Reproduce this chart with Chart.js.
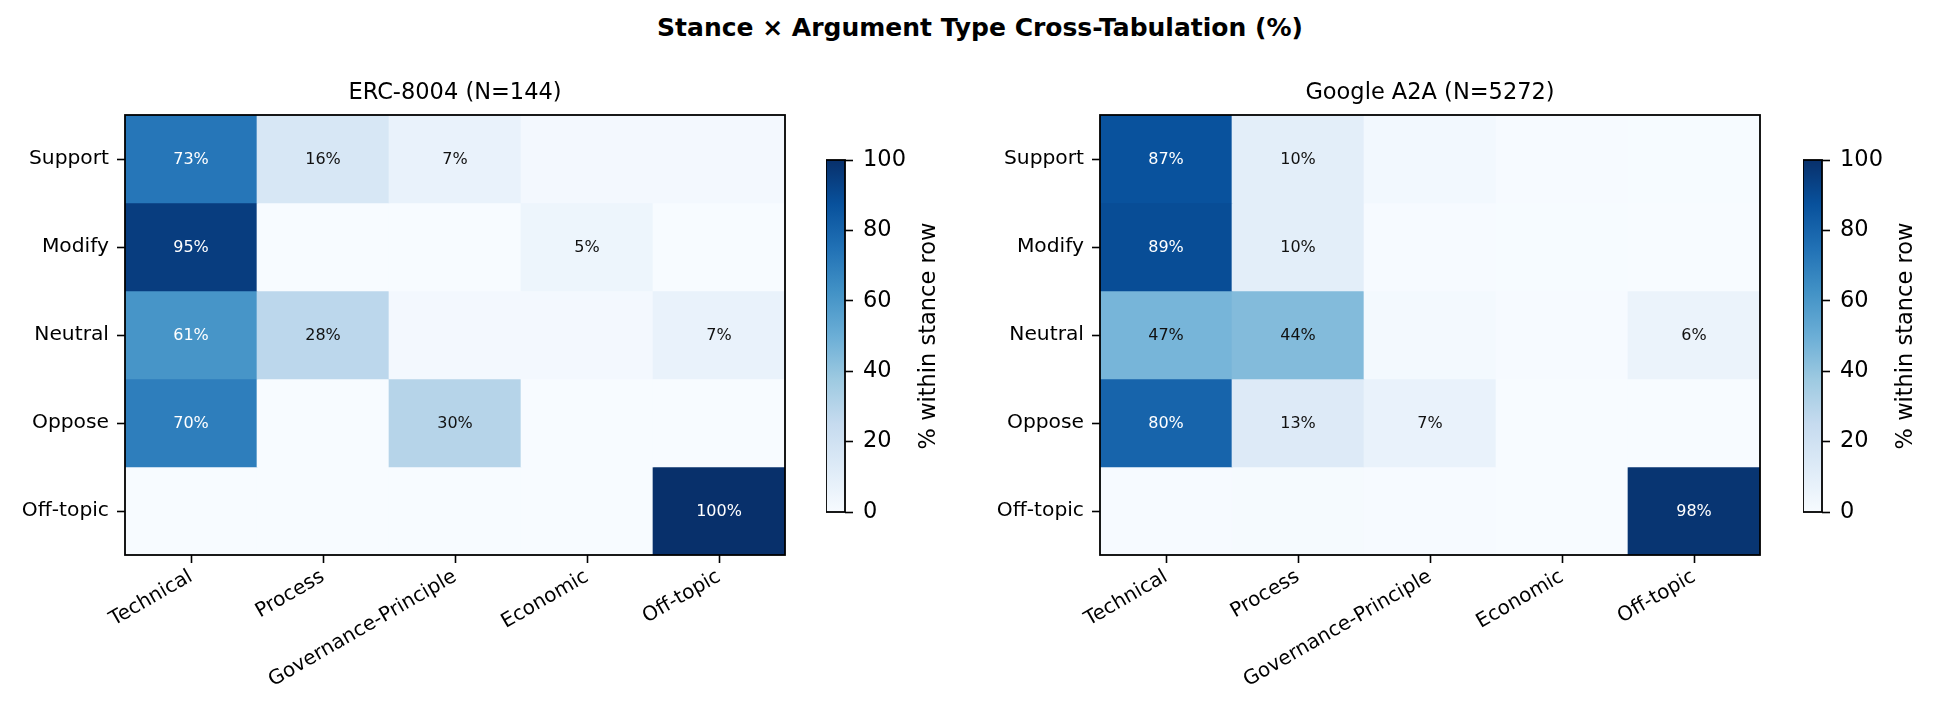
<!DOCTYPE html>
<html>
<head>
<meta charset="utf-8">
<title>Stance × Argument Type Cross-Tabulation (%)</title>
<script src="https://cdn.jsdelivr.net/npm/chart.js@4.4.1/dist/chart.umd.min.js"></script>
<style>
  html, body { margin: 0; padding: 0; background: #fff; }
  body { width: 1937px; height: 715px; position: relative; overflow: hidden; font-family: 'DejaVu Sans', sans-serif; }
  .suptitle { position: absolute; top: 13px; left: 980px; transform: translateX(-50%); font-size: 25px; font-weight: bold; line-height: 30px; white-space: nowrap; color: #000; }
  .box { position: absolute; }
</style>
</head>
<body>
<div class="suptitle">Stance × Argument Type Cross-Tabulation (%)</div>
<div class="box" style="left:0;top:60px;width:800px;height:655px"><canvas id="ercChart"></canvas></div>
<div class="box" style="left:826px;top:130px;width:160px;height:412px"><canvas id="ercBar"></canvas></div>
<div class="box" style="left:975px;top:60px;width:800px;height:655px"><canvas id="a2aChart"></canvas></div>
<div class="box" style="left:1803px;top:130px;width:134px;height:412px"><canvas id="a2aBar"></canvas></div>

<script>
// Rows = stance, columns = argument type
const stances = ['Support', 'Modify', 'Neutral', 'Oppose', 'Off-topic'];
const argTypes = ['Technical', 'Process', 'Governance-Principle', 'Economic', 'Off-topic'];

// % within stance row (ERC-8004, N=144)
const ercRows = [
  [73, 16, 7, 2, 2],
  [95, 0, 0, 5, 0],
  [61, 28, 2, 2, 7],
  [70, 0, 30, 0, 0],
  [0, 0, 0, 0, 100]
];

// % within stance row (Google A2A, N=5272)
const a2aRows = [
  [87, 10, 2.3, 0.4, 0.3],
  [89, 10, 0.5, 0.3, 0.2],
  [47, 44, 1.8, 0.6, 6],
  [80, 13, 7, 0, 0],
  [0.4, 1.0, 0.5, 0, 98.1]
];

const colorTicks = [0, 20, 40, 60, 80, 100];
const showLabelFrom = 5; // cells below this stay unlabeled

Chart.defaults.font.family = "'DejaVu Sans', sans-serif";
Chart.defaults.color = '#000';

// matplotlib "Blues"
const blues = ['#f7fbff', '#deebf7', '#c6dbef', '#9ecae1', '#6baed6', '#4292c6', '#2171b5', '#08519c', '#08306b'];
const hexRgb = h => [1, 3, 5].map(i => parseInt(h.slice(i, i + 2), 16));

function bluesAt(v) {
  const t = Math.min(Math.max(v / 100, 0), 1) * (blues.length - 1);
  const i = Math.min(Math.floor(t), blues.length - 2);
  const f = t - i;
  const a = hexRgb(blues[i]), b = hexRgb(blues[i + 1]);
  const c = a.map((x, k) => Math.round(x + (b[k] - x) * f));
  return `rgb(${c[0]}, ${c[1]}, ${c[2]})`;
}

// ========= plugins =========
const frame = {
  id: 'frame',
  afterDraw(chart) {
    const { ctx, chartArea: a } = chart;
    ctx.save();
    ctx.strokeStyle = '#000';
    ctx.lineWidth = 1.8;
    ctx.strokeRect(a.left, a.top, a.right - a.left, a.bottom - a.top);
    ctx.restore();
  }
};

const cellLabels = {
  id: 'cellLabels',
  afterDatasetsDraw(chart) {
    const ctx = chart.ctx;
    ctx.save();
    ctx.font = "16px 'DejaVu Sans'";
    ctx.textAlign = 'center';
    ctx.textBaseline = 'middle';
    chart.data.datasets.forEach((ds, r) => {
      chart.getDatasetMeta(r).data.forEach((bar, c) => {
        const v = ds.pct[c];
        if (v < showLabelFrom) return;
        ctx.fillStyle = v > 50 ? '#fff' : '#111';
        const p = bar.getCenterPoint();
        ctx.fillText(Math.round(v) + '%', p.x, p.y + 1);
      });
    });
    ctx.restore();
  }
};

const cbLabel = {
  id: 'cbLabel',
  afterDraw(chart) {
    const { ctx, chartArea: a } = chart;
    ctx.save();
    ctx.font = "22.5px 'DejaVu Sans'";
    ctx.fillStyle = '#000';
    ctx.textAlign = 'center';
    ctx.textBaseline = 'middle';
    ctx.translate(a.right + 84, (a.top + a.bottom) / 2);
    ctx.rotate(-Math.PI / 2);
    ctx.fillText('% within stance row', 0, 0);
    ctx.restore();
  }
};

// ========= heatmap =========
function heatmap(id, title, rows) {
  return new Chart(document.getElementById(id), {
    type: 'bar',
    data: {
      labels: argTypes,
      datasets: rows.map((row, r) => ({
        label: stances[r],
        data: row.map(() => [r - 0.5, r + 0.5]),
        pct: row,
        backgroundColor: row.map(bluesAt),
        borderWidth: 0,
        grouped: false,
        barPercentage: 1,
        categoryPercentage: 1
      }))
    },
    options: {
      responsive: true,
      maintainAspectRatio: false,
      animation: false,
      layout: { padding: { left: 0, right: 15, top: 0, bottom: 0 } },
      plugins: {
        legend: { display: false },
        tooltip: { enabled: false },
        title: {
          display: true,
          text: title,
          fullSize: false,
          color: '#000',
          font: { size: 22.5, weight: 'normal' },
          padding: { top: 20, bottom: 8 }
        }
      },
      scales: {
        x: {
          grid: { drawOnChartArea: false, offset: false, tickLength: 8, tickColor: '#000', tickWidth: 1.6 },
          border: { display: false },
          ticks: { color: '#000', font: { size: 20 }, minRotation: 30, maxRotation: 30, autoSkip: false, padding: 2 },
          afterFit: s => { s.height = 160; }
        },
        y: {
          type: 'linear',
          min: -0.5,
          max: 4.5,
          reverse: true,
          afterBuildTicks: s => { s.ticks = stances.map((_, i) => ({ value: i })); },
          grid: { drawOnChartArea: false, tickLength: 8, tickColor: '#000', tickWidth: 1.6 },
          border: { display: false },
          ticks: { color: '#000', font: { size: 20.25 }, padding: 8, callback: v => stances[v] },
          afterFit: s => { s.width = 125; }
        }
      }
    },
    plugins: [cellLabels, frame]
  });
}

// ========= colorbar =========
function colorbar(id, axisWidth) {
  return new Chart(document.getElementById(id), {
    type: 'bar',
    data: {
      labels: [''],
      datasets: [{
        data: [[colorTicks[0], colorTicks[colorTicks.length - 1]]],
        backgroundColor: c => {
          const area = c.chart.chartArea;
          if (!area) return blues[0];
          const g = c.chart.ctx.createLinearGradient(0, area.bottom, 0, area.top);
          blues.forEach((col, i) => g.addColorStop(i / (blues.length - 1), col));
          return g;
        },
        borderWidth: 0,
        barPercentage: 1,
        categoryPercentage: 1
      }]
    },
    options: {
      responsive: true,
      maintainAspectRatio: false,
      animation: false,
      layout: { padding: { left: 0, right: 0, top: 30, bottom: 30 } },
      plugins: { legend: { display: false }, tooltip: { enabled: false } },
      scales: {
        x: { display: false },
        y: {
          position: 'right',
          min: colorTicks[0],
          max: colorTicks[colorTicks.length - 1],
          afterBuildTicks: s => { s.ticks = colorTicks.map(v => ({ value: v })); },
          grid: { drawOnChartArea: false, tickLength: 8, tickColor: '#000', tickWidth: 1.6 },
          border: { display: false },
          ticks: { color: '#000', font: { size: 22.5 }, padding: 10 },
          afterFit: s => { s.width = axisWidth; }
        }
      }
    },
    plugins: [frame, cbLabel]
  });
}

heatmap('ercChart', 'ERC-8004 (N=144)', ercRows);
heatmap('a2aChart', 'Google A2A (N=5272)', a2aRows);
colorbar('ercBar', 141);
colorbar('a2aBar', 115);
</script>
</body>
</html>
